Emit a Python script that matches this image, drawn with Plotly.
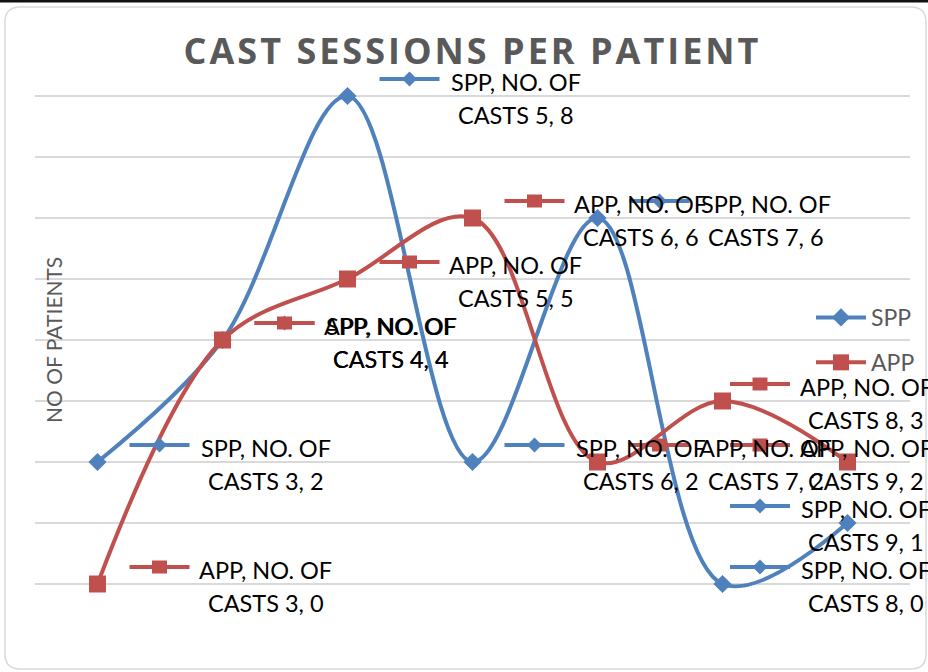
import plotly.graph_objects as go

# ---- data ----
categories = ["NO. OF CASTS 3", "NO. OF CASTS 4", "NO. OF CASTS 5", "NO. OF CASTS 6",
              "NO. OF CASTS 7", "NO. OF CASTS 8", "NO. OF CASTS 9"]
spp = [2, 4, 8, 2, 6, 0, 1]
app = [0, 4, 5, 6, 2, 3, 2]
series_names = ["SPP", "APP"]
title_text = "CAST SESSIONS PER PATIENT"
y_title = "NO OF PATIENTS"

# ---- style ----
W, H = 928, 672
ML, MR, MT, MB = 35, 18, 35, 27
PW, PH = W - ML - MR, H - MT - MB
BLUE, RED = "#4F81BD", "#C0504D"
GRID = "#D9D9D9"
GRAYTXT = "#595959"
LBL_FONT = "Lato, sans-serif"
LABEL_LIMIT = 866          # labels are kept inside the chart area (text centre limit, px)

xs = list(range(len(categories)))

fig = go.Figure()
fig.add_trace(go.Scatter(x=xs, y=spp, name=series_names[0], mode="lines+markers",
                         line=dict(color=BLUE, width=4, shape="spline", smoothing=1),
                         marker=dict(symbol="diamond", size=14, color=BLUE),
                         legendgroup="a"))
fig.add_trace(go.Scatter(x=xs, y=app, name=series_names[1], mode="lines+markers",
                         line=dict(color=RED, width=4, shape="spline", smoothing=1),
                         marker=dict(symbol="square", size=17, color=RED),
                         legendgroup="b"))

shapes = []
annotations = []


def px_path(points):
    # points in figure pixels -> path relative to plot-area origin (paper 0,0), y up
    s = ""
    for cmd, pts in points:
        s += cmd
        for (px, py) in pts:
            s += f" {px - ML},{(H - MB) - py}"
        s += " "
    return s


# chart outer rounded border
r = 15
x0b, x1b, y0b, y1b = 5, 926, 7, 669
border = px_path([
    ("M", [(x0b + r, y0b)]), ("L", [(x1b - r, y0b)]), ("Q", [(x1b, y0b), (x1b, y0b + r)]),
    ("L", [(x1b, y1b - r)]), ("Q", [(x1b, y1b), (x1b - r, y1b)]),
    ("L", [(x0b + r, y1b)]), ("Q", [(x0b, y1b), (x0b, y1b - r)]),
    ("L", [(x0b, y0b + r)]), ("Q", [(x0b, y0b), (x0b + r, y0b)]), ("Z", [])])
shapes.append(dict(type="path", xref="paper", yref="paper", xsizemode="pixel", ysizemode="pixel",
                   xanchor=0, yanchor=0, path=border, line=dict(color=GRID, width=1.5),
                   layer="below"))
# dark top edge of the screenshot
shapes.append(dict(type="path", xref="paper", yref="paper", xsizemode="pixel", ysizemode="pixel",
                   xanchor=0, yanchor=0,
                   path=px_path([("M", [(0, 0)]), ("L", [(W, 0)]), ("L", [(W, 2.5)]),
                                 ("L", [(0, 2.5)]), ("Z", [])]),
                   fillcolor="#111111", line=dict(width=0), layer="above"))

# data labels with legend key (paper-anchored so they are not clipped by the plot area)
KEY_X0, KEY_X1, KEY_DY, TXT_DX = 32, 92, 17, 168
n = len(categories)
for name, vals, color in [(series_names[0], spp, BLUE), (series_names[1], app, RED)]:
    for xi, cat, v in zip(xs, categories, vals):
        px = ML + (xi + 0.5) * PW / n
        shift = min(0, LABEL_LIMIT - (px + TXT_DX))
        xp = (xi + 0.5) / n
        cx = (KEY_X0 + KEY_X1) / 2 + shift
        shapes.append(dict(type="line", xref="paper", yref="y", xsizemode="pixel", ysizemode="pixel",
                           xanchor=xp, yanchor=v, x0=KEY_X0 + shift, x1=KEY_X1 + shift,
                           y0=KEY_DY, y1=KEY_DY,
                           line=dict(color=color, width=4), layer="above"))
        if name == "SPP":
            d = 7.5
            shapes.append(dict(type="path", xref="paper", yref="y", xsizemode="pixel", ysizemode="pixel",
                               xanchor=xp, yanchor=v,
                               path=f"M {cx-d},{KEY_DY} L {cx},{KEY_DY+d} L {cx+d},{KEY_DY} L {cx},{KEY_DY-d} Z",
                               fillcolor=color, line=dict(width=0), layer="above"))
        else:
            shapes.append(dict(type="rect", xref="paper", yref="y", xsizemode="pixel", ysizemode="pixel",
                               xanchor=xp, yanchor=v, x0=cx - 7.5, x1=cx + 7.5,
                               y0=KEY_DY - 6.5, y1=KEY_DY + 6.5,
                               fillcolor=color, line=dict(width=0), layer="above"))
        full = f"{name}, {cat}, {v}"
        line1, line2 = full.split("NO. OF ")
        line1 = line1 + "NO. OF"
        for txt, dy in [(line1, 14), (line2, -19)]:
            annotations.append(dict(x=xi, y=v, xref="x", yref="y", text=txt, showarrow=False,
                                    xanchor="center", yanchor="middle",
                                    xshift=TXT_DX + shift, yshift=dy,
                                    font=dict(family=LBL_FONT, size=23.5, color="#000000")))

# y axis title
annotations.append(dict(xref="paper", yref="paper", x=(53 - ML) / PW, y=(H - MB - 340) / PH,
                        text=y_title, textangle=-90, showarrow=False,
                        xanchor="center", yanchor="middle",
                        font=dict(family=LBL_FONT, size=21, color=GRAYTXT)))

fig.update_layout(
    width=W, height=H, autosize=False,
    margin=dict(l=ML, r=MR, t=MT, b=MB, autoexpand=False),
    paper_bgcolor="white", plot_bgcolor="white",
    title=dict(text=f"<b><span style='letter-spacing:3px'>{title_text}</span></b>",
               x=0.5, xref="paper", xanchor="center",
               y=1 - 51 / H, yref="container", yanchor="middle",
               font=dict(family="Open Sans, sans-serif", size=36, color=GRAYTXT)),
    xaxis=dict(range=[-0.5, n - 0.5], showticklabels=False, showgrid=False,
               zeroline=False, showline=False, ticks=""),
    yaxis=dict(range=[-1, 9], dtick=1, showticklabels=False, showgrid=True, gridcolor=GRID,
               gridwidth=1.5, zeroline=False, showline=False, ticks=""),
    showlegend=True,
    legend=dict(x=(811 - ML) / PW, xanchor="left", y=(H - MB - 340) / PH,
                yanchor="middle",
                font=dict(family=LBL_FONT, size=23, color=GRAYTXT),
                bgcolor="rgba(0,0,0,0)", tracegroupgap=12, itemwidth=50),
    shapes=shapes,
    annotations=annotations,
)

fig.write_html("out.html",
               config={"responsive": False, "displayModeBar": False},
               post_script="document.body.style.margin='0';document.body.style.overflow='hidden';")
